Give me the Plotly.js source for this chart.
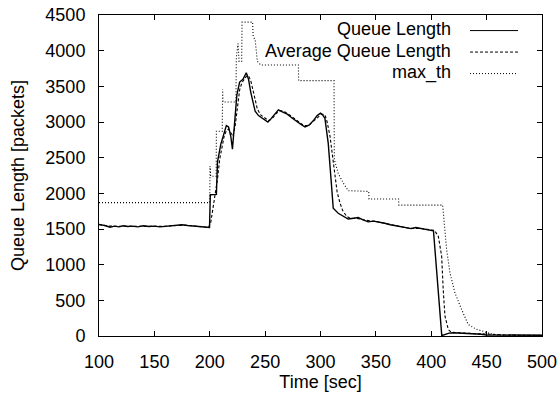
<!DOCTYPE html>
<html>
<head>
<meta charset="utf-8">
<script src="https://cdn.plot.ly/plotly-3.0.1.min.js"></script>
<style>html,body{margin:0;padding:0;background:#fff;}#chart{width:559px;height:401px;}</style>
</head>
<body>
<div id="chart"></div>
<script>
// Queue Length (instantaneous)
const qTime = [100,103,106,110,114,118,122,126,130,135,140,145,150,155,160,165,170,175,180,185,190,195,199.8,
  200.5,206,207,210,212.5,215,217,219,220.5,222.5,224.5,227,230,233,235,237,239,241,244,247,250,252.5,255,258,262,266,270,274,278,282,286,290,294,297,300,302,304,307,309.5,311.5,
  316,320,325,330,334,338,343,348,353,358,363,368,373,378,382,386,390,395,400,402,409.5,412,416,420,425,430,435,440,445,450,460,470,480,490,500];
const qLen = [1565,1560,1545,1525,1540,1530,1545,1535,1540,1530,1545,1535,1540,1530,1535,1550,1555,1560,1550,1540,1530,1520,1520,
  1980,1985,2440,2690,2820,2950,2930,2800,2620,3050,3380,3560,3600,3690,3600,3420,3260,3150,3090,3060,3030,3000,3040,3100,3170,3140,3110,3060,3010,2970,2930,2960,3030,3090,3125,3100,3050,2700,2200,1790,
  1720,1680,1640,1650,1660,1630,1600,1610,1600,1580,1560,1545,1530,1510,1505,1520,1510,1495,1485,1475,5,20,40,45,42,40,35,32,25,15,12,10,12,10,10];

// Average Queue Length
const avgTime = [100,110,120,130,140,150,160,170,180,190,199,201,203,205,207,209,211,213,215,217,219,221,223,225,227,229,231,233,235,237,239,241,243,246,250,253,256,260,264,268,272,276,280,285,289,293,297,301,304,306,308.6,311,313,315,317.6,320,323.6,327,332,340,350,360,370,380,390,400,403,406.4,408,409.4,410.8,412.4,415.4,418,425,435,445,455,470,500];
const avgLen = [1560,1540,1538,1538,1538,1537,1537,1550,1552,1535,1522,1600,1800,1950,2200,2480,2660,2800,2880,2900,2850,2800,2950,3250,3450,3550,3600,3640,3650,3580,3450,3300,3180,3100,3050,3020,3040,3120,3160,3140,3100,3050,3000,2950,2950,3000,3060,3110,3100,3000,2800,2500,2237,2020,1864,1760,1677,1650,1652,1625,1605,1570,1540,1510,1508,1490,1480,1397,1250,1117,651,277,91,55,45,38,28,18,12,10];

// max_th
const maxTime = [100,200,200.3,200.8,205.8,206,211.3,211.6,212,223.6,224,225.5,226.5,228.8,229.2,238.7,239.2,241,243,246,280,280.3,312.2,312.5,316,320.6,325,343.5,343.8,370.5,370.8,410.3,411.8,413.9,416.9,421.4,427.4,433.4,440,447,455,465,480,500];
const maxTh = [1870,1870,2380,2240,2240,2870,2870,3460,3280,3280,3900,4100,3850,3850,4400,4400,4200,4150,3850,3800,3800,3580,3580,2470,2280,2144,2037,2027,1920,1920,1835,1835,1584,1211,885,605,371,161,100,60,25,12,8,8];

const seriesNames = ["Queue Length","Average Queue Length","max_th"];
const xTicks = [100,150,200,250,300,350,400,450,500];
const yTicks = [0,500,1000,1500,2000,2500,3000,3500,4000,4500];

const FONT = "Liberation Sans, Arial, Helvetica, sans-serif";

const traces = [
  {x:qTime, y:qLen, name:seriesNames[0], mode:"lines", line:{color:"#000", width:1.4}},
  {x:avgTime, y:avgLen, name:seriesNames[1], mode:"lines", line:{color:"#000", width:1.1, dash:"3px,2px"}},
  {x:maxTime, y:maxTh, name:seriesNames[2], mode:"lines", line:{color:"#000", width:1.1, dash:"1px,2px"}}
];

// legend (gnuplot style: text then sample)
const legRowsY = [0.9555, 0.8885, 0.8215];
const legDash = ["solid","3px,2px","1px,2px"];
const annotations = seriesNames.map((n,i)=>({
  xref:"paper", yref:"paper", x:0.799, y:legRowsY[i], xanchor:"right", yanchor:"middle",
  text:n, showarrow:false, font:{family:FONT, size:18, color:"#000"}
}));
const shapes = seriesNames.map((n,i)=>({
  type:"line", xref:"paper", yref:"paper", x0:0.8375, x1:0.946, y0:legRowsY[i]-0.004, y1:legRowsY[i]-0.004,
  line:{color:"#000", width:1, dash:legDash[i]}
}));

const layout = {
  width:559, height:401,
  margin:{l:99, r:17, t:15, b:65},
  paper_bgcolor:"#fff", plot_bgcolor:"#fff",
  showlegend:false,
  font:{family:FONT, size:18, color:"#000"},
  xaxis:{
    range:[100,500], tickvals:xTicks, ticktext:xTicks.map(String),
    ticks:"inside", ticklen:5, tickwidth:1, tickcolor:"#000",
    showline:true, linecolor:"#000", linewidth:1, mirror:"ticks",
    showgrid:false, zeroline:false, ticklabelstandoff:9,
    tickfont:{family:FONT, size:18, color:"#000"},
    title:{text:"Time [sec]", font:{family:FONT, size:18, color:"#000"}, standoff:3}
  },
  yaxis:{
    range:[0,4500], tickvals:yTicks, ticktext:yTicks.map(String),
    ticks:"inside", ticklen:5, tickwidth:1, tickcolor:"#000",
    showline:true, linecolor:"#000", linewidth:1, mirror:"ticks",
    showgrid:false, zeroline:false, ticklabelstandoff:9,
    tickfont:{family:FONT, size:18, color:"#000"},
    title:{text:"Queue Length [packets]", font:{family:FONT, size:18, color:"#000"}, standoff:16}
  },
  annotations:annotations,
  shapes:shapes
};

Plotly.newPlot("chart", traces, layout, {staticPlot:true, displayModeBar:false});
</script>
</body>
</html>
